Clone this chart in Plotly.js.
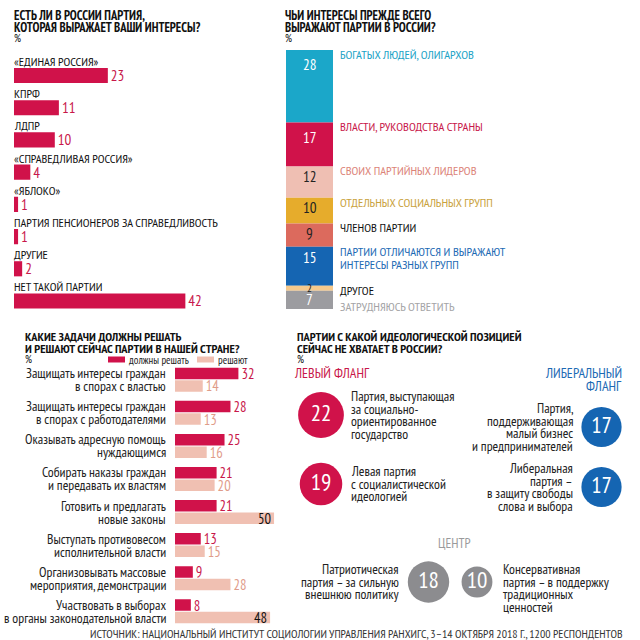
<!DOCTYPE html>
<html><head><meta charset="utf-8">
<script src="https://cdn.plot.ly/plotly-3.0.1.min.js"></script>
<style>html,body{margin:0;padding:0;background:#fff}#chart{width:640px;height:640px}</style>
</head><body><div id="chart"></div>
<script>
// ---------- DATA ----------
const partyLabels = ['«ЕДИНАЯ РОССИЯ»','КПРФ','ЛДПР','«СПРАВЕДЛИВАЯ РОССИЯ»','«ЯБЛОКО»','ПАРТИЯ ПЕНСИОНЕРОВ ЗА СПРАВЕДЛИВОСТЬ','ДРУГИЕ','НЕТ ТАКОЙ ПАРТИИ'];
const partyValues = [23,11,10,4,1,1,2,42];

const interestLabels = [['БОГАТЫХ ЛЮДЕЙ, ОЛИГАРХОВ'],['ВЛАСТИ, РУКОВОДСТВА СТРАНЫ'],['СВОИХ ПАРТИЙНЫХ ЛИДЕРОВ'],['ОТДЕЛЬНЫХ СОЦИАЛЬНЫХ ГРУПП'],['ЧЛЕНОВ ПАРТИИ'],['ПАРТИИ ОТЛИЧАЮТСЯ И ВЫРАЖАЮТ','ИНТЕРЕСЫ РАЗНЫХ ГРУПП'],['ДРУГОЕ'],['ЗАТРУДНЯЮСЬ ОТВЕТИТЬ']];
const interestValues = [28,17,12,10,9,15,2,7];

const taskLabels = [['Защищать интересы граждан','в спорах с властью'],['Защищать интересы граждан','в спорах с работодателями'],['Оказывать адресную помощь','нуждающимся'],['Собирать наказы граждан','и передавать их властям'],['Готовить и предлагать','новые законы'],['Выступать противовесом','исполнительной власти'],['Организовывать массовые','мероприятия, демонстрации'],['Участвовать в выборах','в органы законодательной власти']];
const shouldValues = [32,28,25,21,21,13,9,8];
const doValues = [14,13,16,20,50,15,28,48];
const seriesNames = ['должны решать','решают'];

const ideologyLabels = [['Партия, выступающая','за социально-','ориентированное','государство'],['Левая партия','с социалистической','идеологией'],['Партия,','поддерживающая','малый бизнес','и предпринимателей'],['Либеральная','партия –','в защиту свободы','слова и выбора'],['Патриотическая','партия – за сильную','внешнюю политику'],['Консервативная','партия – в поддержку','традиционных','ценностей']];
const ideologyValues = [22,19,17,17,18,10];
const flankNames = ['ЛЕВЫЙ ФЛАНГ',['ЛИБЕРАЛЬНЫЙ','ФЛАНГ'],'ЦЕНТР'];

// ---------- STYLE / LAYOUT ----------
const FONT = 'PT Sans Narrow, Roboto Condensed, DejaVu Sans Condensed, sans-serif';
const RED = '#d0124a', PINK = '#f0c0b2', BLUE = '#1565b2', GREY = '#8c8c8f';
const segColors = ['#1ba7c9', RED, '#efbfb3', '#e6ac2c', '#dc6a5d', '#1565b2', '#f5c98c', '#9c9ca0'];
const segNumColors = ['#fff','#fff','#222','#222','#222','#fff','#222','#fff'];
const segLabelColors = ['#1ba3c6', '#c8174a', '#dc8479', '#c9a23c', '#111', '#1c6ab4', '#111', '#a4a4a6'];
const circleColors = [RED, RED, BLUE, BLUE, GREY, GREY];
const circlePos = [[321,415],[321,484],[601.5,427],[601.5,487],[428.5,582],[477,582]];
const descPos = [
  {x:351, a:'left', y0:396}, {x:351, a:'left', y0:471},
  {x:573, a:'right', y0:408}, {x:573, a:'right', y0:468},
  {x:399, a:'right', y0:569}, {x:503, a:'left', y0:569}
];

const px = x => x/640, py = y => 1 - y/640;
const ann = [], shapes = [];
function addLines(lines, o){
  lines.forEach((t,i)=>ann.push({
    xref:o.xref||'paper', yref:o.yref||'paper', x:o.x, y:o.y,
    yshift:(o.yshift||0) - i*(o.lh||12), text:t, showarrow:false,
    xanchor:o.anchor||'left', yanchor:'middle', borderwidth:0, borderpad:0,
    font:{family:FONT, size:o.size||12, color:o.color||'#222', weight:o.weight||400}
  }));
}

const traces = [];

// Panel 1
traces.push({type:'bar', orientation:'h', x:partyValues, y:partyLabels, width:0.47,
  marker:{color:RED}, text:partyValues.map(String), textposition:'outside',
  textfont:{family:FONT, size:15, color:'#c8174a'}, constraintext:'none', cliponaxis:false,
  hoverinfo:'skip', xaxis:'x', yaxis:'y'});
partyLabels.forEach((t,i)=>addLines([t], {xref:'x', yref:'y', x:0, y:i, yshift:14.5, size:12.3, color:'#111'}));
addLines(['ЕСТЬ ЛИ В РОССИИ ПАРТИЯ,','КОТОРАЯ ВЫРАЖАЕТ ВАШИ ИНТЕРЕСЫ?'], {x:px(14), y:py(15), lh:12, size:12.6, weight:700, color:'#111'});
addLines(['%'], {x:px(14), y:py(38), size:11, color:'#111'});

// Panel 2
let cum = 0;
interestValues.forEach((v,i)=>{
  traces.push({type:'bar', x:[0], y:[v], base:[cum], width:[1], marker:{color:segColors[i], line:{width:0}},
    hoverinfo:'skip', xaxis:'x2', yaxis:'y2'});
  const off = v >= 17 ? 5.7 : Math.min(v/2, 4);
  ann.push({xref:'x2', yref:'y2', x:0, y:cum+off, text:String(v), showarrow:false, yanchor:'middle',
    font:{family:FONT, size: v < 5 ? 11 : 15, color:segNumColors[i]}});
  const ly = i === interestValues.length-1 ? cum + v - 1.2 : cum + 1.5;
  addLines(interestLabels[i], {x:px(340), xref:'paper', yref:'y2', y:ly, lh:13, size:12.4, color:segLabelColors[i]});
  cum += v;
});
addLines(['ЧЬИ ИНТЕРЕСЫ ПРЕЖДЕ ВСЕГО','ВЫРАЖАЮТ ПАРТИИ В РОССИИ?'], {x:px(285), y:py(15), lh:12, size:12.6, weight:700, color:'#111'});
addLines(['%'], {x:px(285), y:py(38), size:11, color:'#111'});

// Panel 3
const taskKeys = taskLabels.map(l=>l.join(' '));
[[shouldValues, RED, '#c8174a', -0.363],[doValues, PINK, '#df9c8a', 0.015]].forEach(([vals,col,tcol,off],k)=>{
  traces.push({type:'bar', orientation:'h', name:seriesNames[k], x:vals, y:taskKeys, width:0.348, offset:off,
    marker:{color:col}, text:vals.map(String), textangle:0,
    textposition: vals.map(v => v >= 45 ? 'inside' : 'outside'), insidetextanchor:'end',
    textfont:{family:FONT, size:14.5, color: vals.map(v => v >= 45 ? '#111' : tcol)},
    constraintext:'none', cliponaxis:false, hoverinfo:'skip', xaxis:'x3', yaxis:'y3'});
});
taskLabels.forEach((l,i)=>addLines(l, {xref:'paper', x:px(166), yref:'y3', y:i, yshift:6.5, lh:13, anchor:'right', size:13.6, color:'#222'}));
addLines(['КАКИЕ ЗАДАЧИ ДОЛЖНЫ РЕШАТЬ','И РЕШАЮТ СЕЙЧАС ПАРТИИ В НАШЕЙ СТРАНЕ?'], {x:px(25), y:py(336), lh:11.5, size:12.4, weight:700, color:'#111'});
addLines(['%'], {x:px(25), y:py(358.5), size:11, color:'#111'});
[[108, RED],[197, PINK]].forEach(([x,c],k)=>{
  shapes.push({type:'rect', xref:'paper', yref:'paper', x0:px(x), x1:px(x+17), y0:py(362.5), y1:py(356.5), fillcolor:c, line:{width:0}});
  addLines([seriesNames[k]], {x:px(x+21), y:py(359.5), size:10.8, color:'#222'});
});

// Panel 4
traces.push({type:'scatter', mode:'markers+text', x:circlePos.map(p=>p[0]), y:circlePos.map(p=>p[1]),
  text:ideologyValues.map(String), textposition:'middle center',
  textfont:{family:FONT, size:23, color:'#fff'},
  marker:{size:ideologyValues, sizemode:'area', sizeref:0.021, color:circleColors, line:{width:0}, opacity:1},
  cliponaxis:false, hoverinfo:'skip', xaxis:'x4', yaxis:'y4'});
ideologyLabels.forEach((l,i)=>addLines(l, {x:px(descPos[i].x), y:py(descPos[i].y0), lh:12.7, anchor:descPos[i].a, size:13.6, color:'#222'}));
addLines([flankNames[0]], {x:px(294), y:py(373), size:14, color:'#c8174a'});
addLines(flankNames[1], {x:px(622), y:py(373), lh:13, anchor:'right', size:14, color:'#1c6ab4'});
addLines([flankNames[2]], {x:px(454), y:py(543), anchor:'center', size:13.5, color:'#9a9a9c'});
addLines(['ПАРТИИ С КАКОЙ ИДЕОЛОГИЧЕСКОЙ ПОЗИЦИЕЙ','СЕЙЧАС НЕ ХВАТАЕТ В РОССИИ?'], {x:px(297), y:py(336), lh:11.5, size:12.4, weight:700, color:'#111'});
addLines(['%'], {x:px(297), y:py(358.5), size:11, color:'#111'});

// Source
addLines(['ИСТОЧНИК: НАЦИОНАЛЬНЫЙ ИНСТИТУТ СОЦИОЛОГИИ УПРАВЛЕНИЯ РАНХИГС, 3–14 ОКТЯБРЯ 2018 Г., 1200 РЕСПОНДЕНТОВ'], {x:px(90), y:py(633), size:11.8, color:'#333'});

const hid = {showgrid:false, zeroline:false, showticklabels:false, showline:false, ticks:'', fixedrange:true};
const layout = {
  width:640, height:640, margin:{l:0,r:0,t:0,b:0}, paper_bgcolor:'#fff', plot_bgcolor:'rgba(0,0,0,0)',
  showlegend:false, barmode:'overlay', font:{family:FONT},
  xaxis: Object.assign({domain:[px(14), px(258.8)], range:[0,60], anchor:'y'}, hid),
  yaxis: Object.assign({domain:[py(317.1), py(59.4)], type:'category', categoryorder:'array', categoryarray:partyLabels, range:[7.5,-0.5], anchor:'x'}, hid),
  xaxis2: Object.assign({domain:[px(286), px(333)], range:[-0.5,0.5], anchor:'y2'}, hid),
  yaxis2: Object.assign({domain:[py(309), py(50)], range:[100,0], anchor:'x2'}, hid),
  xaxis3: Object.assign({domain:[px(175), px(280)], range:[0,53], anchor:'y3'}, hid),
  yaxis3: Object.assign({domain:[py(627.8), py(363.2)], type:'category', categoryorder:'array', categoryarray:taskKeys, range:[7.5,-0.5], anchor:'x3'}, hid),
  xaxis4: Object.assign({domain:[px(280), 1], range:[280,640], anchor:'y4'}, hid),
  yaxis4: Object.assign({domain:[0, 0.5], range:[640,320], anchor:'x4'}, hid),
  annotations: ann, shapes: shapes
};
Plotly.newPlot('chart', traces, layout, {staticPlot:true, displayModeBar:false});
</script></body></html>
